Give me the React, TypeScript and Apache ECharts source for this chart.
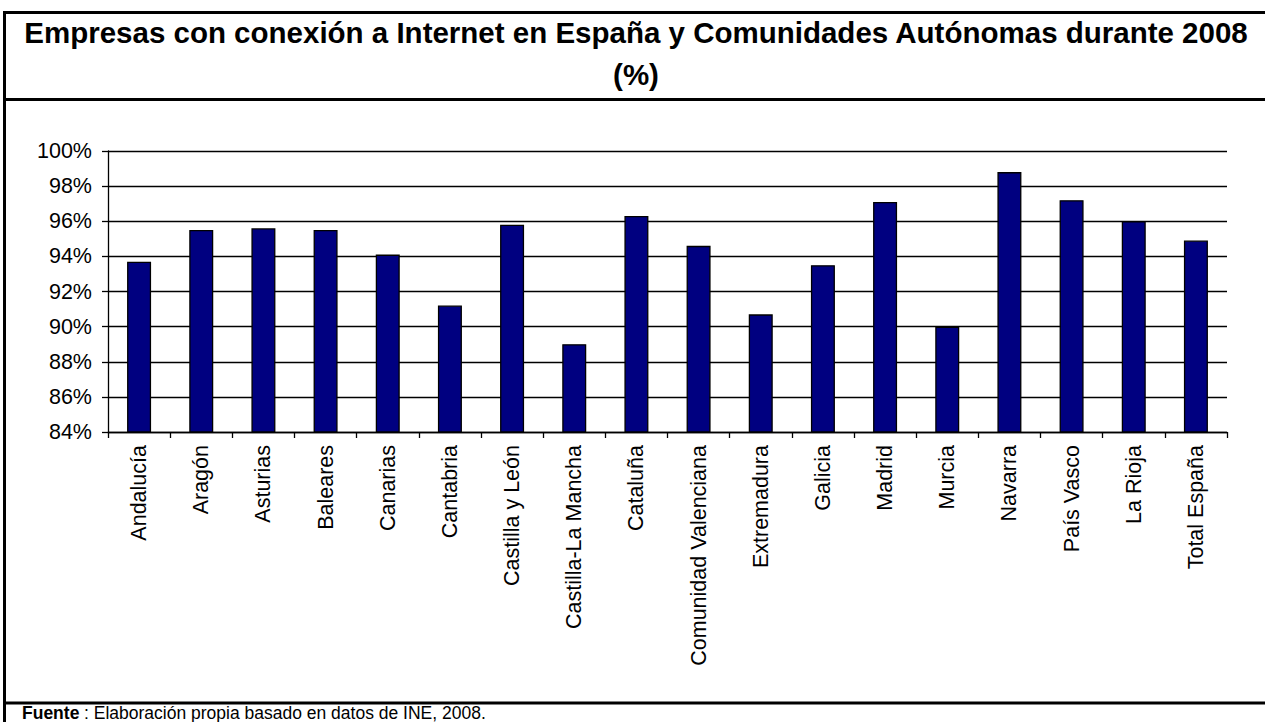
import React, { useEffect, useRef } from "react";
import * as echarts from "echarts";

const categories = [
  "Andalucía", "Aragón", "Asturias", "Baleares", "Canarias", "Cantabria",
  "Castilla y León", "Castilla-La Mancha", "Cataluña", "Comunidad Valenciana",
  "Extremadura", "Galicia", "Madrid", "Murcia", "Navarra", "País Vasco",
  "La Rioja", "Total España",
];
const values = [
  93.7, 95.5, 95.6, 95.5, 94.1, 91.2, 95.8, 89.0, 96.3, 94.6,
  90.7, 93.5, 97.1, 90.0, 98.8, 97.2, 96.0, 94.9,
];
const yMin = 84;
const yMax = 100;
const yStep = 2;
const titleLine1 = "Empresas con conexión a Internet en España y Comunidades Autónomas durante 2008";
const titleLine2 = "(%)";
const sourceBold = "Fuente";
const sourceText = ": Elaboración propia basado en datos de INE, 2008.";

export default function App() {
  const ref = useRef<HTMLDivElement>(null);
  useEffect(() => {
    if (!ref.current) return;
    const chart = echarts.init(ref.current, null, { renderer: "svg" });
    const font = "Arial, 'Liberation Sans', sans-serif";
    chart.setOption({
      animation: false,
      backgroundColor: "#ffffff",
      textStyle: { fontFamily: font },
      grid: { left: 108, right: 38, top: 151, bottom: 290, containLabel: false },
      xAxis: {
        type: "category",
        data: categories,
        boundaryGap: true,
        axisLine: { show: true, lineStyle: { color: "#000", width: 1.3 } },
        axisTick: { show: true, alignWithLabel: false, length: 6, lineStyle: { color: "#000", width: 1.3 } },
        axisLabel: { rotate: 90, margin: 13, color: "#000", fontSize: 21.5, fontFamily: font, interval: 0 },
      },
      yAxis: {
        type: "value",
        min: yMin,
        max: yMax,
        interval: yStep,
        axisLine: { show: true, lineStyle: { color: "#000", width: 1.3 } },
        axisTick: { show: true, length: 6, lineStyle: { color: "#000", width: 1.3 } },
        axisLabel: { formatter: "{value}%", margin: 16, color: "#000", fontSize: 21.5, fontFamily: font },
        splitLine: { show: true, lineStyle: { color: "#000", width: 1.3 } },
      },
      series: [
        {
          type: "bar",
          data: values,
          barWidth: 24,
          itemStyle: { color: "#000080", borderColor: "#000", borderWidth: 1.3 },
        },
      ],
      graphic: [
        { type: "line", shape: { x1: 4.5, y1: 11, x2: 4.5, y2: 722 }, style: { stroke: "#000", lineWidth: 3 } },
        { type: "line", shape: { x1: 3, y1: 12.5, x2: 1270, y2: 12.5 }, style: { stroke: "#000", lineWidth: 3 } },
        { type: "line", shape: { x1: 3, y1: 99.5, x2: 1270, y2: 99.5 }, style: { stroke: "#000", lineWidth: 3 } },
        { type: "line", shape: { x1: 3, y1: 703, x2: 1270, y2: 703 }, style: { stroke: "#000", lineWidth: 3 } },
        {
          type: "text", x: 636, y: 32, style: {
            text: titleLine1, fill: "#000", font: "bold 29.5px Arial, 'Liberation Sans', sans-serif",
            textAlign: "center", textVerticalAlign: "middle",
          },
        },
        {
          type: "text", x: 636, y: 74, style: {
            text: titleLine2, fill: "#000", font: "bold 29.5px Arial, 'Liberation Sans', sans-serif",
            textAlign: "center", textVerticalAlign: "middle",
          },
        },
        {
          type: "text", x: 22, y: 722, style: {
            text: sourceBold, fill: "#000", font: "bold 17.5px Arial, 'Liberation Sans', sans-serif",
            textAlign: "left", textVerticalAlign: "bottom",
          },
        },
        {
          type: "text", x: 84, y: 722, style: {
            text: sourceText, fill: "#000", font: "17.5px Arial, 'Liberation Sans', sans-serif",
            textAlign: "left", textVerticalAlign: "bottom",
          },
        },
      ],
    });
    return () => chart.dispose();
  }, []);
  return (
    <div
      ref={ref}
      style={{ position: "absolute", left: 0, top: 0, width: 1265, height: 722, background: "#fff" }}
    />
  );
}
